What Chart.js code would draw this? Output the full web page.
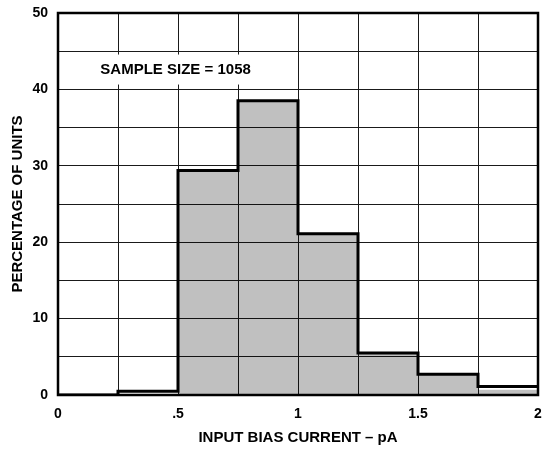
<!DOCTYPE html>
<html>
<head>
<meta charset="utf-8">
<script src="https://cdn.jsdelivr.net/npm/chart.js@4"></script>
<style>
  html, body { margin: 0; padding: 0; background: #fff; }
  #wrap { width: 543px; height: 451px; }
</style>
</head>
<body>
<div id="wrap"><canvas id="c"></canvas></div>
<script>
// ---- data ----
const binStart = [0, 0.25, 0.5, 0.75, 1.0, 1.25, 1.5, 1.75];
const binEnd = 2.0;
const percentUnits = [0, 0.5, 29.4, 38.5, 21.1, 5.5, 2.7, 1.1];   // outline heights
const shadedPercent = [0, 0, 29.4, 38.5, 21.1, 5.5, 2.7, 0.7];    // grey fill heights
const xTickValues = [0, 0.5, 1, 1.5, 2];
const xTickLabels = ['0', '.5', '1', '1.5', '2'];
const yTickValues = [0, 10, 20, 30, 40, 50];
const yTickLabels = ['0', '10', '20', '30', '40', '50'];
const xTitle = 'INPUT BIAS CURRENT – pA';
const yTitle = 'PERCENTAGE OF UNITS';
const noteText = 'SAMPLE SIZE = 1058';
const notePos = { x: 0.49, y: 42.6 };

// step points: each point sits at a bin's right edge, carrying that bin's value
function stepPoints(vals) {
  const pts = [{ x: binStart[0], y: vals[0] }];
  for (let i = 0; i < binStart.length; i++) {
    const end = i + 1 < binStart.length ? binStart[i + 1] : binEnd;
    pts.push({ x: end, y: vals[i] });
  }
  return pts;
}
function lookup(values, labels, v) {
  for (let i = 0; i < values.length; i++) if (Math.abs(values[i] - v) < 1e-6) return labels[i];
  return '';
}

const FONT = '"Liberation Sans", Arial, Helvetica, sans-serif';

const notePlugin = {
  id: 'note',
  afterDatasetsDraw(chart) {
    const ctx = chart.ctx;
    const xs = chart.scales.x, ys = chart.scales.y;
    const px = xs.getPixelForValue(notePos.x), py = ys.getPixelForValue(notePos.y);
    ctx.save();
    ctx.font = 'bold 15px ' + FONT;
    const w = ctx.measureText(noteText).width;
    ctx.fillStyle = '#fff';
    ctx.fillRect(px - w / 2 - 5, py - 15, w + 10, 30);
    ctx.fillStyle = '#000';
    ctx.textAlign = 'center';
    ctx.textBaseline = 'middle';
    ctx.fillText(noteText, px, py);
    ctx.restore();
  },
  afterDraw(chart) {
    const a = chart.chartArea, ctx = chart.ctx;
    ctx.save();
    ctx.strokeStyle = '#000';
    ctx.lineWidth = 2.5;
    ctx.strokeRect(a.left, a.top, a.right - a.left, a.bottom - a.top);
    ctx.restore();
  }
};

new Chart(document.getElementById('c'), {
  type: 'line',
  data: {
    datasets: [
      {
        data: stepPoints(shadedPercent),
        stepped: 'after',
        fill: 'origin',
        backgroundColor: 'rgba(0,0,0,0.247)',
        borderWidth: 0,
        pointRadius: 0
      },
      {
        data: stepPoints(percentUnits),
        stepped: 'after',
        fill: false,
        borderColor: '#000',
        borderWidth: 3,
        pointRadius: 0
      }
    ]
  },
  options: {
    responsive: true,
    maintainAspectRatio: false,
    animation: false,
    events: [],
    layout: { padding: { left: 9, right: 0, top: 13, bottom: 4 } },
    plugins: { legend: { display: false }, tooltip: { enabled: false } },
    scales: {
      x: {
        type: 'linear',
        min: 0, max: 2,
        afterFit(s) { s.height = 52; s.paddingRight = 5; },
        ticks: {
          stepSize: 0.25,
          autoSkip: false,
          maxRotation: 0,
          padding: 11,
          color: '#000',
          font: { family: FONT, size: 14, weight: 'bold' },
          callback: (v) => lookup(xTickValues, xTickLabels, v)
        },
        grid: { color: '#1a1a1a', lineWidth: 1, drawTicks: false },
        border: { display: false },
        title: {
          display: true, text: xTitle, color: '#000',
          font: { family: FONT, size: 15, weight: 'bold' },
          padding: { top: 2, bottom: 0 }
        }
      },
      y: {
        type: 'linear',
        min: 0, max: 50,
        afterFit(s) { s.width = 49; s.paddingTop = 0; },
        ticks: {
          stepSize: 5,
          autoSkip: false,
          padding: 10,
          color: '#000',
          font: { family: FONT, size: 14, weight: 'bold' },
          callback: (v) => lookup(yTickValues, yTickLabels, v)
        },
        grid: { color: '#1a1a1a', lineWidth: 1, drawTicks: false },
        border: { display: false },
        title: {
          display: true, text: yTitle, color: '#000',
          font: { family: FONT, size: 15, weight: 'bold' },
          padding: { top: 0, bottom: 2 }
        }
      }
    }
  },
  plugins: [notePlugin]
});
</script>
</body>
</html>
